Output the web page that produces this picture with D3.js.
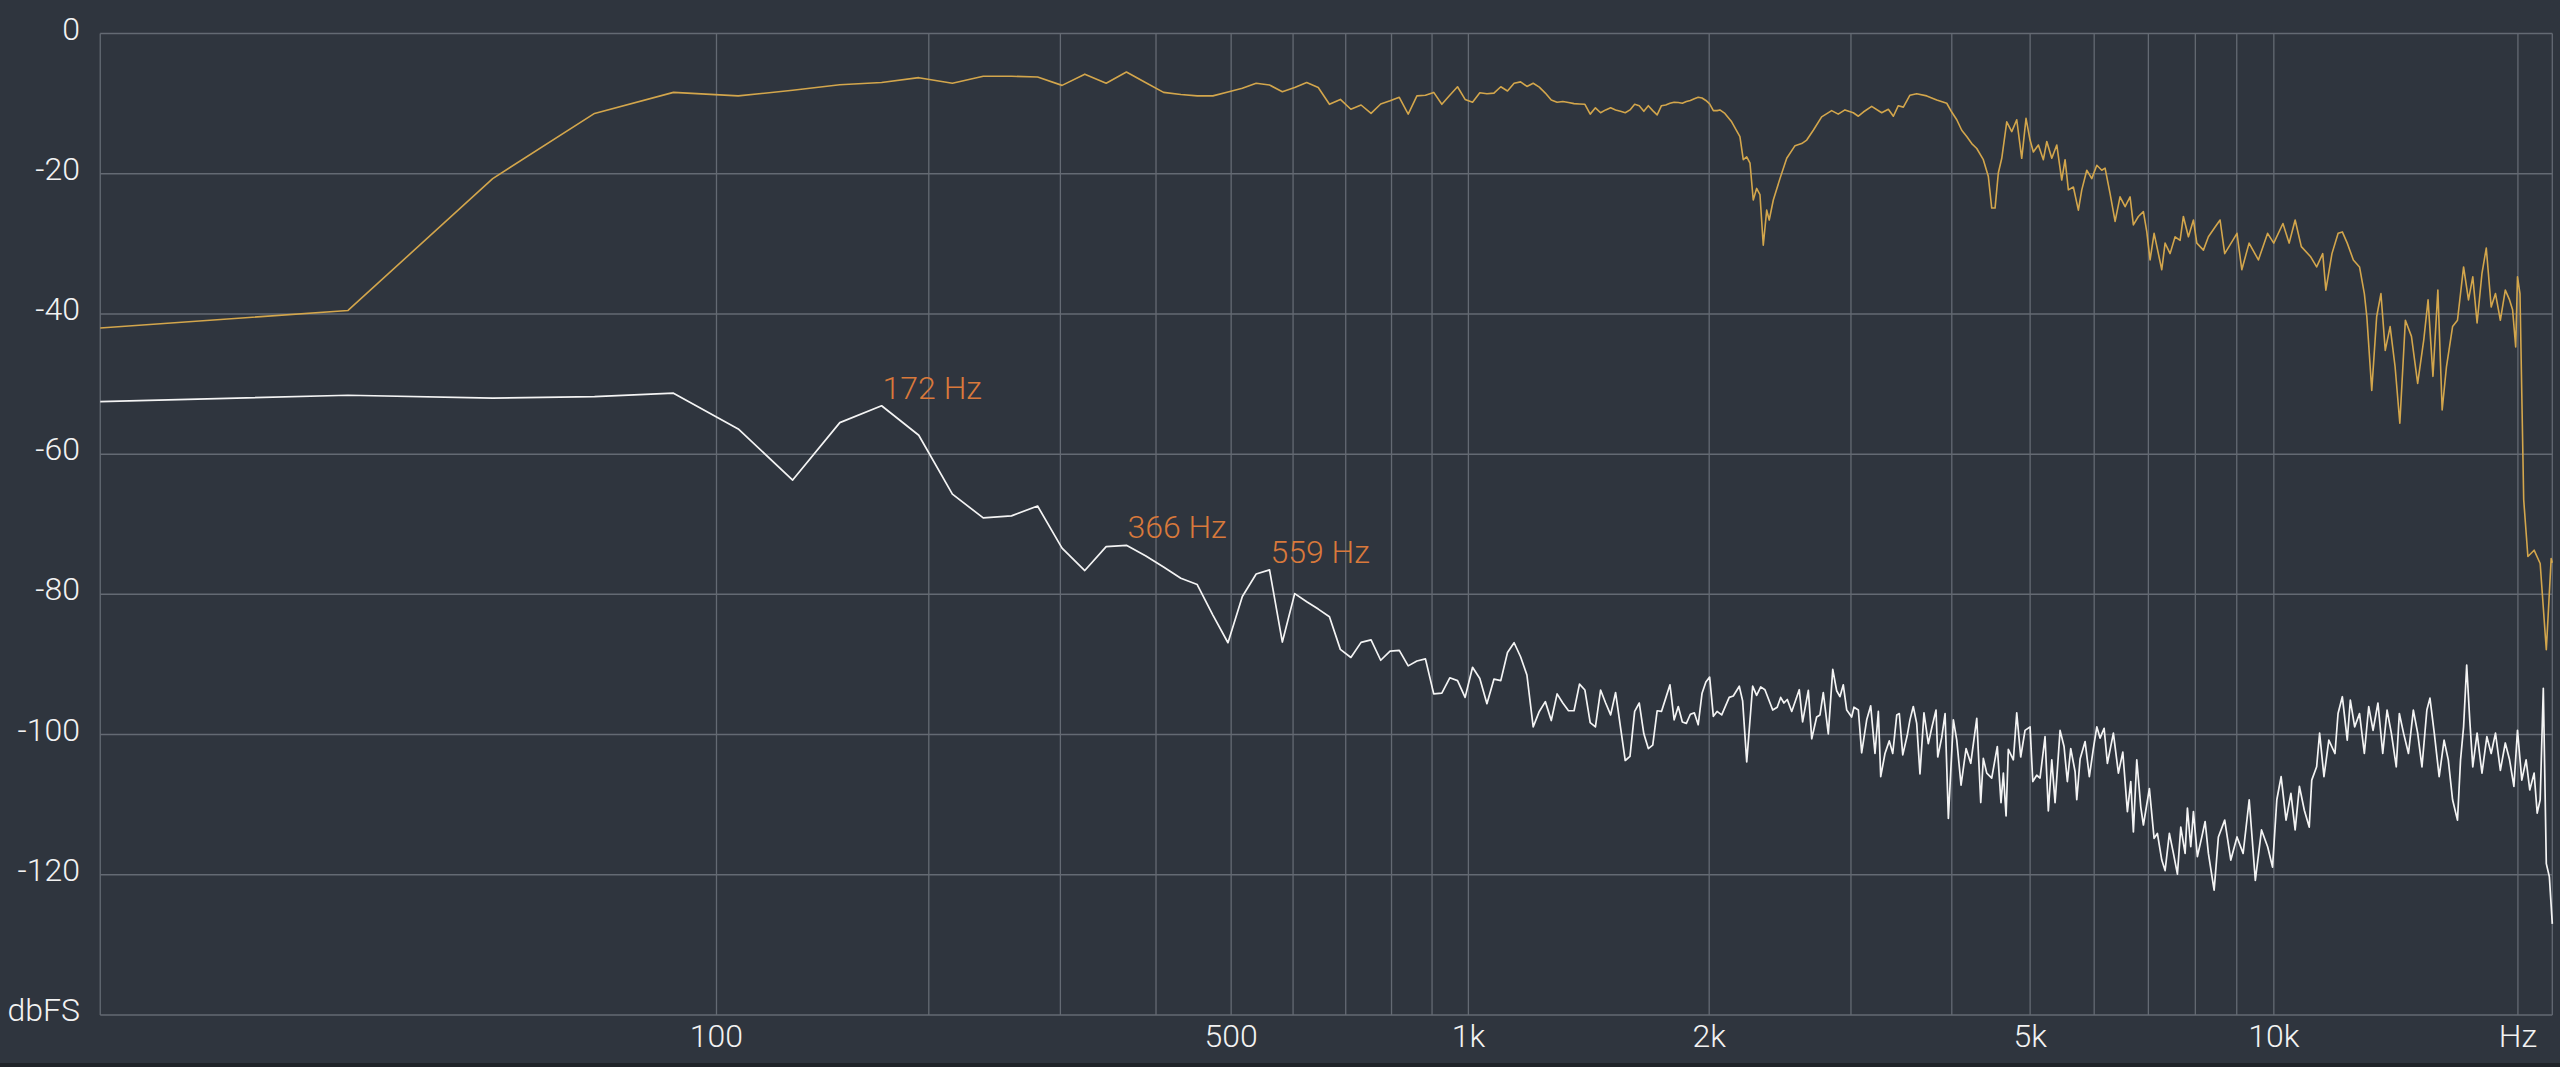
<!DOCTYPE html>
<html><head><meta charset="utf-8">
<script src="https://cdn.jsdelivr.net/npm/d3@7"></script>
<style>html,body{margin:0;padding:0;background:#2f353e;overflow:hidden} svg{display:block}</style>
</head><body><svg id="c" width="2560" height="1067"></svg>
<script>
// ---- data (Hz, dBFS) ----
const lowFreqs=[0,21.5,43.1,64.6,86.1,107.7,129.2,150.7,172.3,193.8,215.3,236.9,258.4,279.9,301.5,323.0,344.5,366.1,387.6,409.1,430.7,452.2,473.7,495.3,516.8,538.3,559.9,581.4,602.9,624.5,646.0,667.5,689.1,710.6,732.1,753.7,775.2,796.7,818.3,839.8,861.3,882.9,904.4,925.9,947.5,969.0,990.5,1012.1,1033.6,1055.1,1076.7,1098.2,1119.7,1141.3,1162.8,1184.3,1205.9,1227.4,1248.9,1270.5,1292.0,1313.5,1335.1,1356.6,1378.1,1399.7,1421.2,1442.7,1464.3,1485.8,1507.3,1528.9,1550.4,1571.9,1593.5,1615.0,1636.5,1658.1,1679.6,1701.1,1722.7,1744.2,1765.7,1787.3,1808.8,1830.3,1851.9,1873.4,1894.9,1916.5,1938.0,1959.5,1981.1,2002.6,2024.1,2045.7];
const goldLow=[-42.0,-39.5,-20.7,-11.4,-8.4,-8.9,-8.1,-7.3,-7.0,-6.3,-7.1,-6.1,-6.1,-6.2,-7.4,-5.8,-7.1,-5.5,-7.0,-8.4,-8.7,-8.9,-8.9,-8.35,-7.8,-7.1,-7.35,-8.3,-7.7,-7.0,-7.7,-10.1,-9.4,-10.8,-10.2,-11.4,-10.05,-9.6,-9.1,-11.5,-8.9,-8.8,-8.4,-10.1,-8.8,-7.6,-9.4,-9.8,-8.45,-8.6,-8.5,-7.6,-8.2,-7.1,-6.9,-7.55,-7.1,-7.65,-8.5,-9.5,-9.8,-9.7,-9.85,-10.0,-10.05,-10.1,-11.5,-10.6,-11.3,-10.9,-10.6,-10.9,-11.1,-11.3,-10.9,-10.1,-10.3,-11.1,-10.3,-11.0,-11.6,-10.3,-10.2,-9.95,-9.8,-9.85,-9.95,-9.7,-9.55,-9.3,-9.1,-9.2,-9.55,-10.05,-11.0,-11.0];
const whiteLow=[-52.5,-51.6,-52.0,-51.8,-51.3,-56.4,-63.7,-55.5,-53.1,-57.3,-65.7,-69.1,-68.8,-67.4,-73.4,-76.6,-73.2,-73.0,-74.5,-76.1,-77.7,-78.6,-82.95,-86.9,-80.3,-77.1,-76.5,-86.8,-79.9,-81.05,-82.1,-83.2,-87.85,-89.0,-86.85,-86.5,-89.4,-88.1,-88.0,-90.2,-89.5,-89.2,-94.2,-94.1,-91.9,-92.3,-94.7,-90.4,-92.0,-95.6,-92.1,-92.3,-88.3,-86.9,-88.9,-91.5,-98.9,-96.7,-95.3,-98.0,-94.2,-95.5,-96.6,-96.6,-92.8,-93.65,-98.3,-98.9,-93.65,-95.5,-97.2,-94.0,-98.9,-103.7,-103.1,-96.7,-95.5,-99.9,-102.0,-101.5,-96.6,-96.7,-94.8,-92.9,-97.9,-96.0,-98.2,-98.4,-97.1,-96.9,-98.6,-94.1,-92.5,-91.8,-97.4,-96.7];

const goldHighFreqs=[2062,2092,2133,2184,2205,2227,2248,2269,2291,2313,2335,2358,2375,2403,2449,2497,2557,2606,2644,2694,2759,2839,2893,2949,3020,3064,3108,3183,3275,3338,3386,3434,3484,3550,3619,3724,3832,3943,3999,4057,4115,4174,4234,4295,4376,4439,4482,4525,4567,4612,4678,4745,4813,4882,4942,4999,5046,5119,5192,5243,5318,5394,5471,5523,5575,5655,5736,5792,5875,5959,6045,6131,6189,6277,6368,6458,6552,6645,6708,6804,6902,6969,7034,7115,7202,7272,7341,7446,7553,7661,7733,7844,7957,8034,8186,8303,8463,8583,8697,9006,9130,9321,9571,9825,9997,10262,10444,10624,10812,11095,11293,11490,11592,11795,12004,12148,12319,12534,12756,12932,13024,13207,13392,13556,13723,13914,14111,14303,14530,14783,15046,15309,15497,15714,15934,16130,16329,16614,16847,17141,17381,17595,17811,18060,18282,18538,18766,19028,19296,19531,19700,19874,19976,20117,20331,20574,20940,21304,21678,21980,22050];
const goldHigh=[-10.9,-11.4,-12.6,-14.7,-18.0,-17.6,-18.5,-23.75,-22.1,-23.0,-30.2,-25.2,-26.6,-23.75,-20.7,-17.8,-16.0,-15.7,-15.2,-13.8,-11.9,-11.0,-11.5,-10.9,-11.3,-11.8,-11.2,-10.4,-11.3,-10.8,-11.8,-10.3,-10.5,-8.8,-8.6,-8.9,-9.5,-9.95,-11.2,-12.3,-13.8,-14.7,-15.7,-16.4,-18.0,-20.4,-24.9,-24.9,-19.9,-17.8,-12.6,-14.0,-12.3,-17.8,-12.1,-15.2,-16.9,-15.9,-18.0,-15.4,-17.8,-15.9,-20.9,-18.0,-22.3,-21.9,-25.2,-22.3,-19.5,-20.7,-18.8,-19.5,-19.2,-22.8,-26.8,-23.3,-24.7,-23.3,-27.3,-26.1,-25.4,-28.3,-32.3,-28.5,-31.4,-33.7,-29.9,-31.4,-29.0,-29.5,-26.1,-29.0,-26.6,-29.9,-30.9,-29.0,-27.6,-26.6,-31.4,-28.5,-33.7,-29.9,-32.3,-28.5,-29.9,-27.1,-29.9,-26.6,-30.4,-31.8,-33.3,-31.4,-36.6,-31.4,-28.5,-28.3,-29.9,-32.3,-33.3,-37.1,-40.4,-50.9,-40.4,-37.1,-45.2,-41.8,-47.5,-55.6,-40.9,-43.2,-49.9,-43.7,-38.0,-48.9,-36.6,-53.7,-47.5,-41.8,-40.9,-33.3,-38.0,-34.7,-41.3,-34.2,-30.6,-39.0,-37.1,-40.9,-36.6,-38.0,-39.4,-44.7,-34.7,-37.1,-66.5,-74.6,-73.7,-75.6,-87.9,-74.9,-75.5];

const whiteHighFreqs=[2073,2118,2143,2180,2201,2227,2265,2291,2318,2346,2399,2430,2454,2477,2501,2533,2588,2613,2656,2682,2720,2746,2772,2812,2848,2880,2907,2935,2964,3006,3026,3064,3093,3138,3174,3213,3244,3266,3306,3347,3380,3419,3444,3478,3523,3550,3584,3619,3653,3695,3741,3777,3824,3843,3887,3924,3961,4018,4057,4107,4166,4222,4295,4344,4376,4419,4482,4554,4602,4633,4669,4699,4767,4813,4868,4928,4999,5038,5095,5143,5217,5266,5318,5368,5445,5507,5559,5613,5683,5710,5764,5847,5918,5986,6045,6101,6172,6230,6337,6428,6509,6595,6658,6708,6773,6850,6902,7020,7115,7182,7272,7341,7431,7517,7603,7676,7771,7822,7897,7957,8047,8149,8226,8303,8439,8542,8697,8849,9006,9164,9324,9488,9656,9825,9963,10085,10209,10353,10497,10624,10754,10905,11058,11137,11293,11389,11530,11691,11896,12001,12148,12319,12427,12581,12756,12932,13094,13256,13441,13626,13794,13962,14159,14283,14455,14658,14863,15046,15231,15444,15580,15773,15993,16218,16412,16614,16847,16994,17141,17293,17444,17595,17811,18060,18313,18538,18766,19028,19296,19531,19773,19976,20221,20470,20684,20940,21125,21304,21494,21678,21868,22050];
const whiteHigh=[-97.2,-94.7,-94.5,-93.1,-95.2,-103.9,-93.1,-94.4,-93.2,-93.6,-96.5,-96.1,-94.7,-95.5,-95.0,-96.7,-93.6,-98.2,-93.7,-100.6,-97.5,-97.2,-94.0,-99.9,-90.7,-93.75,-94.6,-92.9,-96.5,-97.5,-96.1,-96.5,-102.6,-97.9,-95.9,-102.7,-96.7,-106.0,-102.7,-100.9,-102.7,-97.2,-97.0,-102.9,-100.1,-97.9,-96.0,-98.4,-105.6,-96.9,-101.3,-99.1,-96.5,-103.2,-100.4,-97.0,-111.95,-97.9,-100.8,-107.2,-102.0,-104.1,-97.7,-109.7,-103.4,-105.5,-106.2,-101.7,-109.7,-105.5,-111.6,-102.1,-103.6,-96.9,-103.2,-99.4,-98.9,-106.7,-105.8,-106.2,-100.3,-110.9,-103.6,-109.7,-99.4,-101.7,-106.7,-102.0,-105.3,-109.3,-103.5,-101.0,-106.0,-102.0,-98.9,-100.5,-99.1,-104.1,-99.8,-105.5,-102.5,-111.0,-106.7,-113.9,-103.6,-110.3,-112.9,-107.7,-114.8,-114.1,-117.9,-119.4,-114.1,-116.95,-119.9,-113.2,-116.95,-110.5,-116.0,-111.0,-117.4,-114.6,-112.4,-116.95,-122.2,-114.6,-112.2,-117.9,-114.6,-116.95,-109.3,-120.8,-113.6,-116.0,-118.9,-109.3,-106.0,-112.2,-108.4,-113.6,-107.4,-110.8,-113.2,-106.5,-104.6,-99.8,-106.0,-100.8,-102.7,-97.0,-94.6,-100.8,-95.1,-98.9,-97.0,-102.7,-96.0,-99.4,-95.5,-102.7,-96.5,-99.8,-104.6,-97.0,-99.8,-102.7,-96.5,-99.8,-104.6,-96.5,-94.8,-99.8,-106.0,-100.8,-103.6,-109.3,-112.2,-103.6,-98.9,-90.1,-97.9,-104.6,-99.8,-105.5,-100.3,-102.7,-99.8,-105.1,-101.2,-103.6,-107.4,-99.4,-106.5,-103.6,-107.9,-105.5,-111.2,-109.3,-93.4,-118.4,-120.3,-127.0];

const gridFreqs=[100,200,300,400,500,600,700,800,900,1000,2000,3000,4000,5000,6000,7000,8000,9000,10000,20000];
const xTickFreqs=[100,500,1000,2000,5000,10000,20000];
const xTickLabels=['100','500','1k','2k','5k','10k','Hz'];
const yTickValues=[0,-20,-40,-60,-80,-100,-120,-140];
const yTickLabels=['0','-20','-40','-60','-80','-100','-120','dbFS'];
const peakFreqs=[172.3,366.1,559.9];
const peakLabels=['172 Hz','366 Hz','559 Hz'];

// ---- drawing ----
const W=2560,H=1067;
const OFF=21.1;
const xs=d3.scaleLog().domain([OFF,22050+OFF]).range([100.25,2552.3]);
const X=f=>xs(f+OFF);
const Y=d3.scaleLinear().domain([0,-140]).range([33.5,1015]);
const svg=d3.select('#c');
svg.append('rect').attr('width',W).attr('height',H).attr('fill','#2f353e');
svg.append('rect').attr('x',0).attr('y',1063).attr('width',W).attr('height',4).attr('fill','#1f2328');

const gridCol='#646a73';
const g=svg.append('g');
g.selectAll('line.h').data(yTickValues).join('line')
  .attr('x1',X(0)).attr('x2',X(22050)).attr('y1',d=>Y(d)).attr('y2',d=>Y(d))
  .attr('stroke',gridCol).attr('stroke-width',1.5);
g.selectAll('line.v').data([0,...gridFreqs,22050]).join('line')
  .attr('x1',d=>X(d)).attr('x2',d=>X(d)).attr('y1',Y(0)).attr('y2',Y(-140))
  .attr('stroke',gridCol).attr('stroke-width',1.3);

const font='Roboto, "Noto Sans", sans-serif';
svg.selectAll('text.y').data(yTickValues).join('text')
  .attr('x',80).attr('y',d=>Y(d)+6).attr('text-anchor','end')
  .attr('fill','#f2f2f2').attr('font-family',font).attr('font-size',32).attr('font-weight',300)
  .text((d,i)=>yTickLabels[i]);
svg.selectAll('text.x').data(xTickFreqs).join('text')
  .attr('x',d=>X(d)).attr('y',1047).attr('text-anchor','middle')
  .attr('fill','#f2f2f2').attr('font-family',font).attr('font-size',32).attr('font-weight',300)
  .text((d,i)=>xTickLabels[i]);

function series(fl,vl,fh,vh){
  const a=fl.map((f,i)=>({f,v:vl[i]}));
  const b=fh.map((f,i)=>({f,v:vh[i]}));
  return a.concat(b);
}
const gold=series(lowFreqs,goldLow,goldHighFreqs,goldHigh);
const white=series(lowFreqs,whiteLow,whiteHighFreqs,whiteHigh);
const line=d3.line().x(d=>X(d.f)).y(d=>Y(d.v));
svg.append('path').datum(gold).attr('d',line).attr('fill','none')
  .attr('stroke','#d3a64c').attr('stroke-width',1.6).attr('stroke-linejoin','round');
svg.append('path').datum(white).attr('d',line).attr('fill','none')
  .attr('stroke','#f4f4f4').attr('stroke-width',1.7).attr('stroke-linejoin','round');

peakFreqs.forEach((pf,i)=>{
  const idx=lowFreqs.indexOf(pf);
  const v=whiteLow[idx];
  svg.append('text').attr('x',X(pf)+1).attr('y',Y(v)-7)
    .attr('fill','#d9793b').attr('font-family',font).attr('font-size',32).attr('font-weight',300)
    .text(peakLabels[i]);
});
</script></body></html>
